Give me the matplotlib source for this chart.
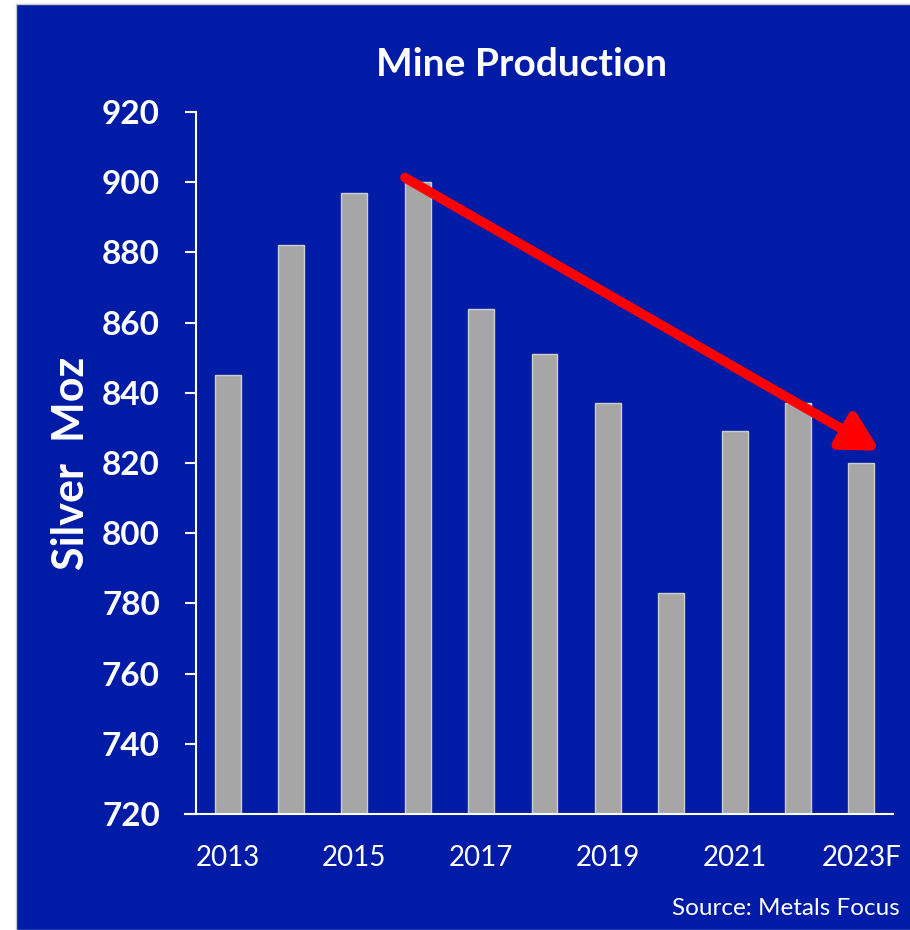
import matplotlib.pyplot as plt
from matplotlib.patches import Rectangle, FancyArrowPatch

# Данные: добыча серебра, млн унций
years = ['2013', '2014', '2015', '2016', '2017', '2018',
         '2019', '2020', '2021', '2022', '2023F']
production = [845, 882, 897, 900, 864, 851, 837, 783, 829, 837, 820]
yticks = [720, 740, 760, 780, 800, 820, 840, 860, 880, 900, 920]

BLUE = '#001BA5'
plt.rcParams['font.family'] = ['Lato', 'DejaVu Sans']

fig = plt.figure(figsize=(9.1, 9.3), dpi=100, facecolor='white')
# синий фон слайда с белой полосой слева и сверху
fig.patches.append(Rectangle((16 / 910, 0), 1, 1 - 4 / 930,
                             transform=fig.transFigure, facecolor=BLUE,
                             edgecolor='#C8C8C8', lw=1.0, zorder=-1))

ax = fig.add_axes([196 / 910, 1 - 814 / 930, (893 - 196) / 910, (814 - 112) / 930])
ax.set_facecolor('none')

x = range(len(years))
ax.bar(x, production, width=0.41, color='#A6A6A6', edgecolor='#CFCFCF',
       linewidth=1.0, zorder=2)

ax.set_xlim(-0.5, 10.5)
ax.set_ylim(720, 920)
ax.set_yticks(yticks)
ax.set_yticklabels([str(v) for v in yticks], fontsize=24, fontweight='bold', color='white')
ax.set_xticks(list(x)[::2])
ax.set_xticklabels(years[::2], fontsize=20, color='white')
ax.tick_params(axis='y', length=8, width=1.5, color='white', pad=18)
ax.tick_params(axis='x', length=0, pad=22)

for side in ['top', 'right']:
    ax.spines[side].set_visible(False)
for side in ['left', 'bottom']:
    ax.spines[side].set_color('white')
    ax.spines[side].set_linewidth(1.5)
ax.spines['bottom'].set_bounds(-0.68, 10.5)

ax.set_ylabel('Silver  Moz', fontsize=31, fontweight='bold', color='white', labelpad=8)

# красная стрелка тренда
arrow = FancyArrowPatch((2.76, 901.7), (10.33, 823.1),
                        arrowstyle='-|>,head_length=1.1,head_width=0.6',
                        mutation_scale=20, color='#FF0000', lw=7, zorder=3)
ax.add_patch(arrow)

fig.text(521 / 910, 1 - 64 / 930, 'Mine Production', ha='center', va='center',
         fontsize=28, fontweight='bold', color='white')
fig.text(900 / 910, 1 - 908 / 930, 'Source: Metals Focus', ha='right', va='center',
         fontsize=17.5, color='white')

fig.savefig('out.png', dpi=100, facecolor='white')
